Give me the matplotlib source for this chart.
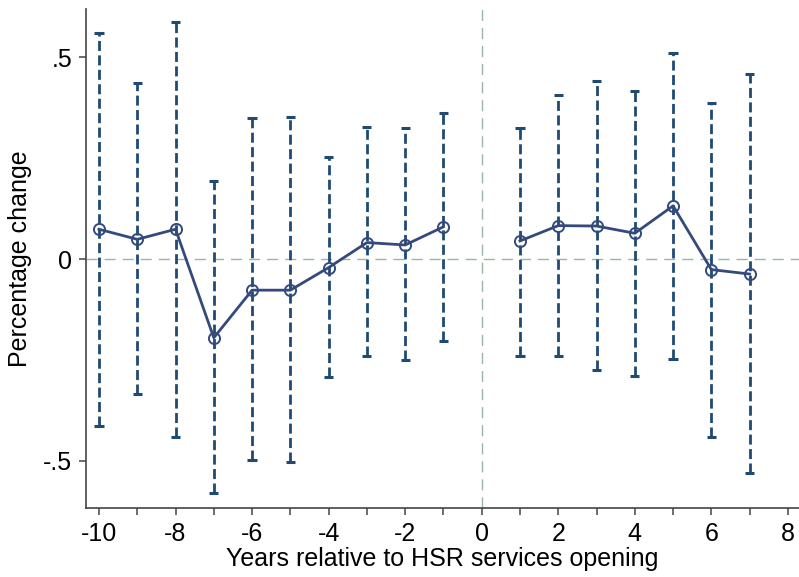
import matplotlib
matplotlib.use("Agg")
import matplotlib.pyplot as plt
import numpy as np

plt.rcParams['font.family'] = ['Liberation Sans', 'DejaVu Sans']

years_pre = [-10, -9, -8, -7, -6, -5, -4, -3, -2, -1]
coef_pre = [0.074, 0.049, 0.074, -0.195, -0.077, -0.077, -0.021, 0.041, 0.035, 0.080]
upper_pre = [0.560, 0.436, 0.587, 0.194, 0.349, 0.353, 0.254, 0.328, 0.324, 0.363]
lower_pre = [-0.414, -0.335, -0.440, -0.581, -0.499, -0.504, -0.293, -0.241, -0.250, -0.203]

years_post = [1, 2, 3, 4, 5, 6, 7]
coef_post = [0.045, 0.083, 0.082, 0.064, 0.132, -0.026, -0.037]
upper_post = [0.326, 0.408, 0.441, 0.417, 0.510, 0.387, 0.460]
lower_post = [-0.239, -0.240, -0.275, -0.290, -0.248, -0.442, -0.531]

xticks_major = [-10, -8, -6, -4, -2, 0, 2, 4, 6, 8]
xticks_minor = [-9, -7, -5, -3, -1, 1, 3, 5, 7]
yticks = [-0.5, 0, 0.5]
ytick_labels = ['-.5', '0', '.5']

ci_color = '#1f4a73'
line_color = '#34497c'
ref_color = '#98b8a4'

fig = plt.figure(figsize=(7.99, 5.77), dpi=100)
ax = fig.add_axes([0.1076, 0.1196, 0.8924, 0.8648])

ax.axhline(0, color=ref_color, lw=1.0, dashes=(8, 5), zorder=1)
ax.axvline(0, color=ref_color, lw=1.0, dashes=(8, 5), zorder=1)

for yrs, lo, hi in [(years_pre, lower_pre, upper_pre), (years_post, lower_post, upper_post)]:
    ax.vlines(yrs, lo, hi, colors=ci_color, lw=2.0, linestyles=(0, (3.6, 1.6)), zorder=2)
    ax.hlines(lo, np.array(yrs) - 0.12, np.array(yrs) + 0.12, colors=ci_color, lw=2.2, zorder=2)
    ax.hlines(hi, np.array(yrs) - 0.12, np.array(yrs) + 0.12, colors=ci_color, lw=2.2, zorder=2)

for yrs, c in [(years_pre, coef_pre), (years_post, coef_post)]:
    ax.plot(yrs, c, color=line_color, lw=2.0, marker='o', ms=8, mfc='none',
            mec=line_color, mew=1.4, zorder=3)

ax.set_xlim(-10.34, 8.29)
ax.set_ylim(-0.617, 0.62)
ax.set_xticks(xticks_major)
ax.set_xticklabels([str(t) for t in xticks_major])
ax.set_xticks(xticks_minor, minor=True)
ax.set_yticks(yticks)
ax.set_yticklabels(ytick_labels)

ax.spines['top'].set_visible(False)
ax.spines['right'].set_visible(False)
for s in ['left', 'bottom']:
    ax.spines[s].set_color('#444444')
    ax.spines[s].set_linewidth(1.2)

ax.tick_params(axis='both', which='major', labelsize=18, length=5, width=1.1, color='#444444', pad=5)
ax.tick_params(axis='x', which='minor', length=5, width=1.1, color='#444444')

ax.set_xlabel('Years relative to HSR services opening', fontsize=18, labelpad=1)
ax.set_ylabel('Percentage change', fontsize=18, labelpad=8)

fig.savefig('out.png', dpi=100)
